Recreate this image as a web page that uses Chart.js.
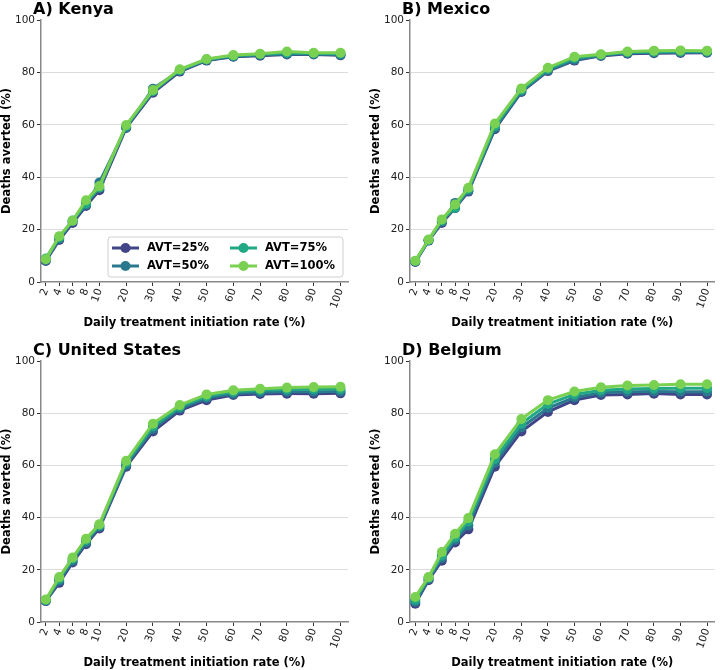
<!DOCTYPE html>
<html>
<head>
<meta charset="utf-8">
<script src="https://cdn.jsdelivr.net/npm/chart.js@4.4.1/dist/chart.umd.min.js"></script>
<style>
  body { margin: 0; background: #fff; }
  .panel { position: absolute; width: 360px; height: 335px; }
</style>
</head>
<body>
<div class="panel" style="left:0;top:0"><canvas id="chartA" width="360" height="335"></canvas></div>
<div class="panel" style="left:360px;top:0"><canvas id="chartB" width="360" height="335"></canvas></div>
<div class="panel" style="left:0;top:335px"><canvas id="chartC" width="360" height="335"></canvas></div>
<div class="panel" style="left:360px;top:335px"><canvas id="chartD" width="360" height="335"></canvas></div>
<script>
const xValues = [2, 4, 6, 8, 10, 20, 30, 40, 50, 60, 70, 80, 90, 100];
const yTicks = [0, 20, 40, 60, 80, 100];
const avtLabels = ['AVT=25%', 'AVT=50%', 'AVT=75%', 'AVT=100%'];
const avtColors = ['#414487', '#2a788e', '#22a884', '#7ad151'];

const kenya25  = [8.0, 16.0, 22.5, 29.0, 35.0, 58.8, 72.2, 80.3, 84.5, 86.0, 86.4, 86.8, 86.8, 86.5];
const kenya50  = [8.3, 16.5, 23.2, 29.5, 38.0, 59.0, 73.8, 80.6, 84.7, 86.1, 86.6, 87.0, 87.0, 86.7];
const kenya75  = [9.0, 17.0, 23.5, 30.0, 36.0, 59.5, 72.8, 80.9, 84.9, 86.4, 86.9, 87.5, 87.2, 87.2];
const kenya100 = [8.7, 17.5, 23.4, 31.2, 36.6, 59.9, 73.3, 81.2, 85.1, 86.6, 87.1, 88.0, 87.5, 87.5];

const mexico25  = [7.6, 15.8, 22.5, 28.2, 34.5, 58.3, 72.5, 80.5, 84.5, 86.3, 87.1, 87.3, 87.4, 87.5];
const mexico50  = [7.8, 15.9, 23.0, 30.2, 34.8, 58.8, 72.8, 80.8, 84.8, 86.5, 87.4, 87.6, 87.7, 87.7];
const mexico75  = [8.0, 16.0, 23.5, 28.3, 35.5, 59.5, 73.3, 81.3, 85.5, 86.7, 87.7, 87.9, 88.0, 88.0];
const mexico100 = [8.1, 16.2, 23.9, 29.6, 36.0, 60.5, 73.9, 81.8, 86.0, 86.9, 88.0, 88.3, 88.4, 88.3];

const us25  = [8.0, 15.0, 22.8, 29.8, 35.8, 59.5, 73.0, 81.0, 85.0, 87.0, 87.4, 87.5, 87.5, 87.6];
const us50  = [8.2, 15.8, 23.5, 30.5, 36.5, 60.2, 74.0, 81.8, 85.8, 87.5, 88.0, 88.2, 88.2, 88.3];
const us75  = [8.4, 16.5, 24.2, 31.3, 37.0, 61.0, 75.0, 82.5, 86.5, 88.2, 88.8, 89.1, 89.2, 89.3];
const us100 = [8.6, 17.2, 24.7, 31.9, 37.5, 61.8, 76.0, 83.1, 87.2, 88.8, 89.4, 89.8, 90.0, 90.1];

const belgium25  = [7.0, 16.0, 23.5, 30.5, 35.5, 59.5, 73.0, 80.5, 85.0, 87.0, 87.2, 87.5, 87.2, 87.2];
const belgium50  = [7.8, 16.5, 24.5, 31.5, 37.0, 61.0, 74.5, 82.0, 86.0, 87.8, 88.2, 88.3, 88.2, 88.2];
const belgium75  = [8.5, 17.0, 25.5, 32.5, 38.5, 62.5, 76.0, 83.5, 87.2, 88.8, 89.3, 89.5, 89.6, 89.6];
const belgium100 = [9.6, 17.2, 26.8, 33.8, 39.8, 64.3, 77.8, 85.0, 88.3, 89.9, 90.6, 90.8, 91.1, 91.1];

Chart.defaults.font.family = '"DejaVu Sans", sans-serif';
Chart.defaults.color = '#222';

// the x axis is piecewise: steps of 2 below 10 take half the room of steps of 10 above
function axisPos(x) {
  return x <= 10 ? (x - 2) / 4 : 2 + (x - 10) / 10;
}

// panel title, top-left above the plot
const titlePlugin = {
  id: 'panelTitle',
  afterDraw(chart, args, opts) {
    const { ctx, chartArea } = chart;
    ctx.save();
    ctx.font = 'bold 16px "DejaVu Sans"';
    ctx.fillStyle = '#000';
    ctx.textBaseline = 'alphabetic';
    ctx.fillText(opts.text, chartArea.left - 8, chartArea.top - 6.5);
    ctx.restore();
  }
};

// two-column legend inside the bottom-right corner (matplotlib style)
const boxLegend = {
  id: 'boxLegend',
  afterDraw(chart, args, opts) {
    if (!opts.show) return;
    const { ctx, chartArea } = chart;
    const right = chartArea.right - 5, bottom = chartArea.bottom - 5;
    const w = 235, h = 40, left = right - w, top = bottom - h;
    ctx.save();
    ctx.beginPath();
    ctx.roundRect(left, top, w, h, 3);
    ctx.fillStyle = 'rgba(255,255,255,0.85)';
    ctx.fill();
    ctx.strokeStyle = '#d0d0d0';
    ctx.lineWidth = 1;
    ctx.stroke();
    ctx.font = 'bold 11.5px "DejaVu Sans"';
    ctx.textBaseline = 'middle';
    avtLabels.forEach((label, i) => {
      const col = Math.floor(i / 2), row = i % 2;
      const x0 = left + 4 + col * 118;
      const y = top + 11 + row * 18;
      ctx.strokeStyle = avtColors[i];
      ctx.lineWidth = 3;
      ctx.beginPath();
      ctx.moveTo(x0, y);
      ctx.lineTo(x0 + 27, y);
      ctx.stroke();
      ctx.fillStyle = avtColors[i];
      ctx.beginPath();
      ctx.arc(x0 + 13.5, y, 5, 0, Math.PI * 2);
      ctx.fill();
      ctx.fillStyle = '#000';
      ctx.fillText(label, x0 + 35, y + 0.5);
    });
    ctx.restore();
  }
};

function makePanel(id, title, series, layout, showLegend) {
  new Chart(document.getElementById(id), {
    type: 'line',
    data: {
      datasets: series.map((vals, i) => ({
        label: avtLabels[i],
        data: xValues.map((x, j) => ({ x: axisPos(x), y: vals[j] })),
        borderColor: avtColors[i],
        backgroundColor: avtColors[i],
        pointBackgroundColor: avtColors[i],
        pointBorderColor: avtColors[i],
        pointBorderWidth: 0,
        pointRadius: 5,
        borderWidth: 3,
        tension: 0,
        order: 3 - i
      }))
    },
    options: {
      responsive: false,
      animation: false,
      events: [],
      layout: { padding: { left: layout.left, top: layout.top, right: layout.right, bottom: 0 } },
      plugins: {
        legend: { display: false },
        tooltip: { enabled: false },
        panelTitle: { text: title },
        boxLegend: { show: showLegend }
      },
      scales: {
        x: {
          type: 'linear',
          min: layout.xmin,
          max: 11.28,
          afterBuildTicks: scale => { scale.ticks = xValues.map(v => ({ value: axisPos(v) })); },
          afterFit: scale => { scale.height = layout.xh; },
          ticks: {
            autoSkip: false, minRotation: 70, maxRotation: 70, padding: 1,
            font: { size: 10.5 }, color: '#222',
            callback: (v, i) => String(xValues[i])
          },
          grid: { drawOnChartArea: false, drawTicks: true, tickLength: 4, tickColor: '#333' },
          border: { color: '#888', width: 1.5 },
          title: { display: true, text: 'Daily treatment initiation rate (%)', font: { size: 11.5, weight: 'bold' }, color: '#000', padding: { top: 0, bottom: layout.xtp } }
        },
        y: {
          min: 0,
          max: 100,
          afterBuildTicks: scale => { scale.ticks = yTicks.map(v => ({ value: v })); },
          afterFit: scale => { scale.width = 41; },
          ticks: { padding: 2, font: { size: 10.5 }, color: '#222' },
          grid: {
            color: c => (c.tick && (c.tick.value === 0 || c.tick.value === 100)) ? 'rgba(0,0,0,0)' : '#dcdcdc',
            lineWidth: 1,
            tickLength: 4,
            tickColor: '#333'
          },
          border: { color: '#888', width: 1.5 },
          title: { display: true, text: 'Deaths averted (%)', font: { size: 11.5, weight: 'bold' }, color: '#000', padding: 0 }
        }
      }
    },
    plugins: [titlePlugin, boxLegend]
  });
}

window.onload = () => {
  makePanel('chartA', 'A) Kenya', [kenya25, kenya50, kenya75, kenya100], { left: 0, top: 20, right: 12, xh: 53, xtp: 5, xmin: -0.18 }, true);
  makePanel('chartB', 'B) Mexico', [mexico25, mexico50, mexico75, mexico100], { left: 9, top: 20, right: 2, xh: 53, xtp: 5, xmin: -0.2 }, false);
  makePanel('chartC', 'C) United States', [us25, us50, us75, us100], { left: 0, top: 26, right: 12, xh: 48, xtp: 0, xmin: -0.18 }, false);
  makePanel('chartD', 'D) Belgium', [belgium25, belgium50, belgium75, belgium100], { left: 9, top: 26, right: 2, xh: 48, xtp: 0, xmin: -0.2 }, false);
};
</script>
</body>
</html>
